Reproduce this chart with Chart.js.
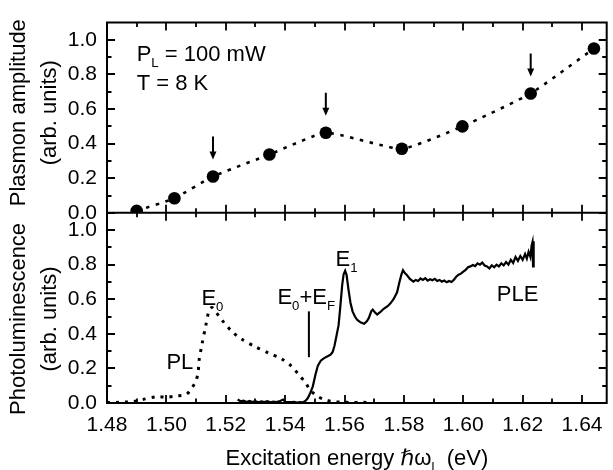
<!DOCTYPE html>
<html><head><meta charset="utf-8">
<script src="https://cdn.jsdelivr.net/npm/chart.js@4.4.1/dist/chart.umd.min.js"></script>
<style>html,body{margin:0;padding:0;background:#fff;}canvas{display:block;}</style>
</head><body>
<canvas id="c" width="613" height="470"></canvas>
<script>
// ---- data ----
const plasmonEnergy = [1.4900, 1.5027, 1.5157, 1.5347, 1.5537, 1.5793, 1.5997, 1.6227, 1.6440];
const plasmonAmp    = [0.011, 0.084, 0.210, 0.337, 0.463, 0.370, 0.500, 0.690, 0.950];
const arrowIdx = [2, 4, 7];

const plEnergy = [1.4800, 1.4830, 1.4860, 1.4887, 1.4920, 1.4967, 1.5000, 1.5033, 1.5067, 1.5087, 1.5100, 1.5107, 1.5110, 1.5120, 1.5133, 1.5143, 1.5153, 1.5165, 1.5187, 1.5220, 1.5253, 1.5300, 1.5343, 1.5387, 1.5420, 1.5443, 1.5467, 1.5487, 1.5510, 1.5533, 1.5560, 1.5590, 1.5620, 1.5660, 1.5690];
const plIntensity = [0.004, 0.003, 0.006, 0.008, 0.020, 0.036, 0.034, 0.040, 0.050, 0.090, 0.130, 0.180, 0.245, 0.340, 0.450, 0.530, 0.552, 0.530, 0.480, 0.415, 0.370, 0.325, 0.290, 0.256, 0.215, 0.170, 0.120, 0.070, 0.038, 0.020, 0.008, 0.005, 0.003, 0.004, 0.002];

const pleEnergy = [1.5240, 1.5250, 1.5260, 1.5270, 1.5280, 1.5290, 1.5300, 1.5310, 1.5320, 1.5330, 1.5340, 1.5350, 1.5360, 1.5370, 1.5380, 1.5393, 1.5400, 1.5420, 1.5430, 1.5440, 1.5450, 1.5460, 1.5470, 1.5477, 1.5485, 1.5493, 1.5503, 1.5510, 1.5520, 1.5530, 1.5543, 1.5553, 1.5560, 1.5566, 1.5572, 1.5580, 1.5586, 1.5592, 1.5597, 1.5602, 1.5607, 1.5613, 1.5620, 1.5627, 1.5635, 1.5643, 1.5655, 1.5666, 1.5675, 1.5682, 1.5690, 1.5695, 1.5702, 1.5710, 1.5720, 1.5732, 1.5745, 1.5754, 1.5765, 1.5777, 1.5785, 1.5792, 1.5797, 1.5803, 1.5810, 1.5820, 1.5832, 1.5840, 1.5848, 1.5856, 1.5864, 1.5872, 1.5880, 1.5888, 1.5896, 1.5904, 1.5912, 1.5920, 1.5928, 1.5936, 1.5944, 1.5952, 1.5960, 1.5968, 1.5976, 1.5984, 1.5992, 1.6000, 1.6008, 1.6016, 1.6024, 1.6032, 1.6040, 1.6048, 1.6056, 1.6064, 1.6072, 1.6080, 1.6088, 1.6096, 1.6104, 1.6112, 1.6120, 1.6128, 1.6136, 1.6144, 1.6152, 1.6160, 1.6168, 1.6176, 1.6184, 1.6192, 1.6200, 1.6208, 1.6214, 1.6220, 1.6226, 1.6230, 1.6233, 1.6235, 1.6237];
const pleIntensity = [0.020, 0.010, 0.014, 0.006, 0.012, 0.005, 0.010, 0.004, 0.009, 0.005, 0.010, 0.004, 0.008, 0.005, 0.009, 0.020, 0.007, 0.005, 0.006, 0.003, 0.005, 0.004, 0.015, 0.030, 0.060, 0.095, 0.170, 0.215, 0.245, 0.258, 0.270, 0.280, 0.295, 0.330, 0.380, 0.450, 0.560, 0.680, 0.745, 0.765, 0.740, 0.660, 0.580, 0.530, 0.500, 0.480, 0.465, 0.458, 0.472, 0.492, 0.530, 0.540, 0.525, 0.512, 0.525, 0.545, 0.560, 0.575, 0.600, 0.640, 0.700, 0.745, 0.768, 0.752, 0.740, 0.718, 0.702, 0.712, 0.706, 0.720, 0.712, 0.722, 0.708, 0.716, 0.710, 0.718, 0.706, 0.712, 0.702, 0.708, 0.698, 0.706, 0.700, 0.712, 0.730, 0.742, 0.748, 0.760, 0.770, 0.785, 0.790, 0.798, 0.792, 0.808, 0.800, 0.812, 0.795, 0.790, 0.778, 0.796, 0.785, 0.800, 0.790, 0.808, 0.796, 0.815, 0.800, 0.828, 0.810, 0.845, 0.822, 0.850, 0.828, 0.862, 0.835, 0.875, 0.845, 0.910, 0.930, 0.790, 0.935];

const e0efEnergy = 1.548;
const e0efRange = [0.265, 0.53];

const xMajorTicks = [1.48, 1.50, 1.52, 1.54, 1.56, 1.58, 1.60, 1.62, 1.64];
const xMinorTicks = [1.49, 1.51, 1.53, 1.55, 1.57, 1.59, 1.61, 1.63];
const yMajorTicks = [0.0, 0.2, 0.4, 0.6, 0.8, 1.0];
const yMinorTicks = [0.1, 0.3, 0.5, 0.7, 0.9];

const topTitle = ['Plasmon amplitude', '(arb. units)'];
const bottomTitle = ['Photoluminescence', '(arb. units)'];

const FONT = "'Liberation Sans', Arial, Helvetica, 'DejaVu Sans', sans-serif";

const textLabels = [
  {axis: 'yT', x: 1.4900, y: 0.880, parts: [['P'], ['L', 1], [' = 100 mW']]},
  {axis: 'yT', x: 1.4900, y: 0.709, parts: [['T = 8 K']]},
  {axis: 'yB', x: 1.5118, y: 0.568, parts: [['E'], ['0', 1]]},
  {axis: 'yB', x: 1.5000, y: 0.199, parts: [['PL']]},
  {axis: 'yB', x: 1.5374, y: 0.574, parts: [['E'], ['0', 1], ['+E'], ['F', 1]]},
  {axis: 'yB', x: 1.5570, y: 0.795, parts: [['E'], ['1', 1]]},
  {axis: 'yB', x: 1.6113, y: 0.590, parts: [['PLE']]}
];
const xTitleParts = [['Excitation energy '], ['\u210F\u03C9'], ['l', 1], ['  (eV)']];

function zip(xs, ys) { return xs.map((x, i) => ({x: x, y: ys[i]})); }

function drawRich(ctx, parts, x, y, size, align) {
  const widths = parts.map(p => {
    ctx.font = (p[1] ? size * 0.6 : size) + 'px ' + FONT;
    return ctx.measureText(p[0]).width;
  });
  const total = widths.reduce((a, b) => a + b, 0);
  let cx = align === 'center' ? x - total / 2 : x;
  ctx.textBaseline = 'alphabetic';
  ctx.textAlign = 'left';
  ctx.fillStyle = '#000';
  parts.forEach((p, i) => {
    ctx.font = (p[1] ? size * 0.6 : size) + 'px ' + FONT;
    ctx.fillText(p[0], cx, p[1] ? y + size * 0.28 : y);
    cx += widths[i];
  });
}

function drawVTitle(ctx, lines, cy, x0, lineGap, size) {
  ctx.save();
  ctx.font = size + 'px ' + FONT;
  ctx.fillStyle = '#000';
  ctx.textAlign = 'center';
  ctx.textBaseline = 'middle';
  lines.forEach((t, i) => {
    ctx.save();
    ctx.translate(x0 + i * lineGap, cy);
    ctx.rotate(-Math.PI / 2);
    ctx.fillText(t, 0, 0);
    ctx.restore();
  });
  ctx.restore();
}

const framePlugin = {
  id: 'frame',
  beforeDatasetDraw(chart, args) {
    if (args.meta.yAxisID === 'yT') {
      const s = chart.scales.yT, a = chart.chartArea;
      const ctx = chart.ctx;
      ctx.save();
      ctx.beginPath();
      ctx.rect(a.left, s.top - 10, a.right - a.left, s.bottom - s.top + 10);
      ctx.clip();
    }
  },
  afterDatasetDraw(chart, args) {
    if (args.meta.yAxisID === 'yT') chart.ctx.restore();
  },
  afterDraw(chart) {
    const ctx = chart.ctx;
    const a = chart.chartArea;
    const xs = chart.scales.x, yT = chart.scales.yT, yB = chart.scales.yB;
    const mid = yT.bottom;
    ctx.save();
    ctx.strokeStyle = '#000';
    ctx.lineCap = 'butt';
    // frame
    ctx.lineWidth = 2;
    ctx.beginPath();
    ctx.moveTo(a.left, a.top); ctx.lineTo(a.right, a.top);
    ctx.moveTo(a.left, mid); ctx.lineTo(a.right, mid);
    ctx.moveTo(a.left, a.bottom); ctx.lineTo(a.right, a.bottom);
    ctx.moveTo(a.left, a.top - 1); ctx.lineTo(a.left, a.bottom + 1);
    ctx.moveTo(a.right, a.top - 1); ctx.lineTo(a.right, a.bottom + 1);
    ctx.stroke();
    // x ticks
    ctx.lineWidth = 1.8;
    ctx.beginPath();
    const xt = (v, len) => {
      const px = Math.round(xs.getPixelForValue(v));
      ctx.moveTo(px, a.top); ctx.lineTo(px, a.top + len);
      ctx.moveTo(px, mid - len); ctx.lineTo(px, mid + len);
      ctx.moveTo(px, a.bottom); ctx.lineTo(px, a.bottom - len);
    };
    xMajorTicks.forEach(v => xt(v, 8));
    xMinorTicks.forEach(v => xt(v, 4.5));
    // y ticks
    const yt = (s, v, len) => {
      const py = Math.round(s.getPixelForValue(v));
      ctx.moveTo(a.left, py); ctx.lineTo(a.left + len, py);
      ctx.moveTo(a.right, py); ctx.lineTo(a.right - len, py);
    };
    [yT, yB].forEach(s => {
      yMajorTicks.forEach(v => yt(s, v, 8));
      yMinorTicks.forEach(v => yt(s, v, 4.5));
    });
    ctx.stroke();
    // arrows over marked plasmon points
    ctx.lineWidth = 2;
    arrowIdx.forEach(i => {
      const px = xs.getPixelForValue(plasmonEnergy[i]);
      const tip = yT.getPixelForValue(plasmonAmp[i]) - 17;
      ctx.beginPath();
      ctx.moveTo(px, tip - 23); ctx.lineTo(px, tip - 6);
      ctx.stroke();
      ctx.beginPath();
      ctx.moveTo(px - 3.5, tip - 8); ctx.lineTo(px + 3.5, tip - 8); ctx.lineTo(px, tip);
      ctx.closePath();
      ctx.fillStyle = '#000';
      ctx.fill();
    });
    // E0+EF marker
    ctx.beginPath();
    const ex = xs.getPixelForValue(e0efEnergy);
    ctx.moveTo(ex, yB.getPixelForValue(e0efRange[0]));
    ctx.lineTo(ex, yB.getPixelForValue(e0efRange[1]));
    ctx.stroke();
    // text labels
    textLabels.forEach(l => {
      const s = chart.scales[l.axis];
      drawRich(ctx, l.parts, xs.getPixelForValue(l.x), s.getPixelForValue(l.y), 22, 'left');
    });
    // axis titles
    drawRich(ctx, xTitleParts, (a.left + a.right) / 2, a.bottom + 62, 22, 'center');
    drawVTitle(ctx, topTitle, (yT.top + yT.bottom) / 2 - 5, 18.5, 31.5, 22);
    drawVTitle(ctx, bottomTitle, (yB.top + yB.bottom) / 2 + 11, 18.5, 31.5, 22);
    ctx.restore();
  }
};

const tickFont = {family: FONT, size: 21};

function yScale(stackW, weight) {
  return {
    type: 'linear', position: 'left', stack: 'panels', stackWeight: stackW, weight: weight,
    min: 0, max: 1.1,
    grid: {display: false, drawTicks: false}, border: {display: false},
    ticks: {font: tickFont, color: '#000', padding: 10, autoSkip: false, callback: v => v.toFixed(1)},
    afterBuildTicks: s => { s.ticks = yMajorTicks.map(v => ({value: v})); },
    afterFit: s => { s.width = 107; }
  };
}

new Chart(document.getElementById('c'), {
  type: 'line',
  data: {
    datasets: [
      {label: 'Plasmon amplitude', data: zip(plasmonEnergy, plasmonAmp), yAxisID: 'yT', xAxisID: 'x',
       borderColor: '#000', borderWidth: 2.6, borderDash: [3.5, 6.5], tension: 0.15,
       pointRadius: 6.3, pointBackgroundColor: '#000', pointBorderWidth: 0, fill: false},
      {label: 'PL', data: zip(plEnergy, plIntensity), yAxisID: 'yB', xAxisID: 'x',
       borderColor: '#000', borderWidth: 3, borderDash: [3, 6], tension: 0.3, pointRadius: 0, fill: false},
      {label: 'PLE', data: zip(pleEnergy, pleIntensity), yAxisID: 'yB', xAxisID: 'x',
       borderColor: '#000', borderWidth: 2.2, tension: 0, pointRadius: 0, fill: false}
    ]
  },
  options: {
    responsive: false, animation: false, devicePixelRatio: 1,
    layout: {padding: {top: 19, right: 1, bottom: 0, left: 0}},
    plugins: {legend: {display: false}, tooltip: {enabled: false}},
    scales: {
      x: {
        type: 'linear', position: 'bottom', min: 1.48, max: 1.6483,
        grid: {display: false, drawTicks: false}, border: {display: false},
        ticks: {font: tickFont, color: '#000', padding: 10, maxRotation: 0, autoSkip: false, callback: v => v.toFixed(2)},
        afterBuildTicks: s => { s.ticks = xMajorTicks.map(v => ({value: v})); },
        afterFit: s => { s.height = 67; }
      },
      yT: yScale(1, 1),
      yB: yScale(1, 0)
    }
  },
  plugins: [framePlugin]
});
</script>
</body></html>
